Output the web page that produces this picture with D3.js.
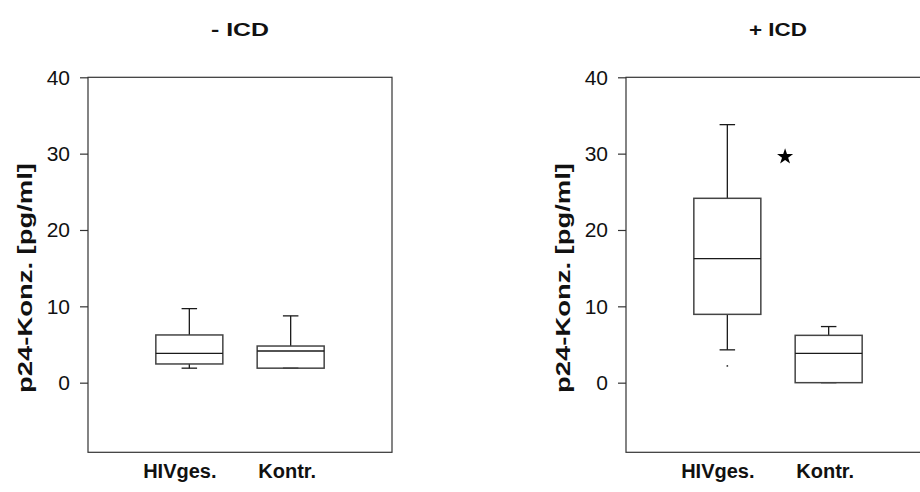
<!DOCTYPE html>
<html>
<head>
<meta charset="utf-8">
<script src="https://cdn.jsdelivr.net/npm/d3@7"></script>
<style>
  html, body { margin: 0; padding: 0; background: #fff; }
  svg { display: block; font-family: "Liberation Sans", Arial, sans-serif; }
</style>
</head>
<body>
<svg id="chart" width="920" height="492"></svg>
<script>
// Panels and groups
const panels = ["- ICD", "+ ICD"];
const categories = ["HIVges.", "Kontr."];

// Box statistics per panel, one value per category (pg/ml)
const whiskerLow  = [[1.9, 1.9],   [4.3, 0.0]];
const quartile1   = [[2.45, 1.9],  [8.95, 0.0]];
const medians     = [[3.85, 4.15], [16.25, 3.85]];
const quartile3   = [[6.25, 4.8],  [24.15, 6.2]];
const whiskerHigh = [[9.7, 8.75],  [33.8, 7.35]];

// Single outlying values: [category index, value]
const outliers = [[], [[0, 2.2]]];

// Significance marker: [position between categories, value]
const markers = [[], [[1.57, 29.6]]];

const yTicks = [0, 10, 20, 30, 40];
const yTitle = "p24-Konz. [pg/ml]";

const svg = d3.select("#chart");
const frameW = 304;
const panelLeft = [88, 626];
const plotTop = 77.3, plotBottom = 452.3;

const y = d3.scaleLinear().domain([-9.12, 40]).range([plotBottom, plotTop]);
const x = d3.scaleLinear().domain([0, 3]).range([0, frameW]);

const boxW = 67, capW = 15.5;
const ink = "#1a1a1a";

panels.forEach((title, p) => {
  const g = svg.append("g").attr("transform", `translate(${panelLeft[p]},0)`);

  // frame
  g.append("rect")
    .attr("x", 0).attr("y", plotTop)
    .attr("width", frameW).attr("height", plotBottom - plotTop)
    .attr("fill", "none").attr("stroke", "#333").attr("stroke-width", 1.2);

  // y axis
  const axis = d3.axisLeft(y).tickValues(yTicks).tickSize(8).tickPadding(10).tickFormat(d3.format("d"));
  const ax = g.append("g").call(axis);
  ax.select(".domain").remove();
  ax.selectAll(".tick line").attr("stroke", "#333").attr("stroke-width", 1.2);
  ax.selectAll(".tick text")
    .attr("font-size", 21).attr("fill", "#111")
    .attr("font-family", "'Liberation Sans', Arial, sans-serif");

  // y title, drawn long along the axis
  g.append("text")
    .attr("transform", `translate(${-63},${278}) rotate(-90)`)
    .attr("text-anchor", "middle")
    .attr("dominant-baseline", "central")
    .attr("font-size", 20).attr("font-weight", "bold").attr("fill", "#111")
    .attr("textLength", 230).attr("lengthAdjust", "spacingAndGlyphs")
    .text(yTitle);

  // panel title
  g.append("text")
    .attr("x", frameW / 2).attr("y", 36)
    .attr("text-anchor", "middle")
    .attr("font-size", 18.5).attr("font-weight", "bold").attr("fill", "#111")
    .attr("textLength", 58).attr("lengthAdjust", "spacingAndGlyphs")
    .text(title);

  // category labels
  const labelShift = [-9.5, -3.5];
  categories.forEach((c, i) => {
    g.append("text")
      .attr("x", x(i + 1) + labelShift[i]).attr("y", 478)
      .attr("text-anchor", "middle")
      .attr("font-size", 20).attr("font-weight", "bold").attr("fill", "#111")
      .text(c);
  });

  // boxes
  categories.forEach((c, i) => {
    const cx = x(i + 1);
    const bg = g.append("g").attr("stroke", ink).attr("stroke-width", 1.3).attr("fill", "none");
    // whiskers
    bg.append("line").attr("x1", cx).attr("x2", cx)
      .attr("y1", y(quartile3[p][i])).attr("y2", y(whiskerHigh[p][i]));
    bg.append("line").attr("x1", cx).attr("x2", cx)
      .attr("y1", y(quartile1[p][i])).attr("y2", y(whiskerLow[p][i]));
    bg.append("line").attr("x1", cx - capW / 2).attr("x2", cx + capW / 2)
      .attr("y1", y(whiskerHigh[p][i])).attr("y2", y(whiskerHigh[p][i]));
    bg.append("line").attr("x1", cx - capW / 2).attr("x2", cx + capW / 2)
      .attr("y1", y(whiskerLow[p][i])).attr("y2", y(whiskerLow[p][i]));
    // box
    bg.append("rect")
      .attr("x", cx - boxW / 2).attr("width", boxW)
      .attr("y", y(quartile3[p][i])).attr("height", y(quartile1[p][i]) - y(quartile3[p][i]))
      .attr("stroke", "#444").attr("stroke-width", 1.5);
    // median
    bg.append("line").attr("x1", cx - boxW / 2).attr("x2", cx + boxW / 2)
      .attr("y1", y(medians[p][i])).attr("y2", y(medians[p][i]));
  });

  // outlying values
  outliers[p].forEach(([i, v]) => {
    g.append("circle").attr("cx", x(i + 1)).attr("cy", y(v)).attr("r", 0.9).attr("fill", "#333");
  });

  // significance star
  markers[p].forEach(([pos, v]) => {
    g.append("path")
      .attr("d", d3.symbol().type(d3.symbolStar).size(80)())
      .attr("transform", `translate(${x(pos)},${y(v)})`)
      .attr("fill", "#000");
  });
});
</script>
</body>
</html>
